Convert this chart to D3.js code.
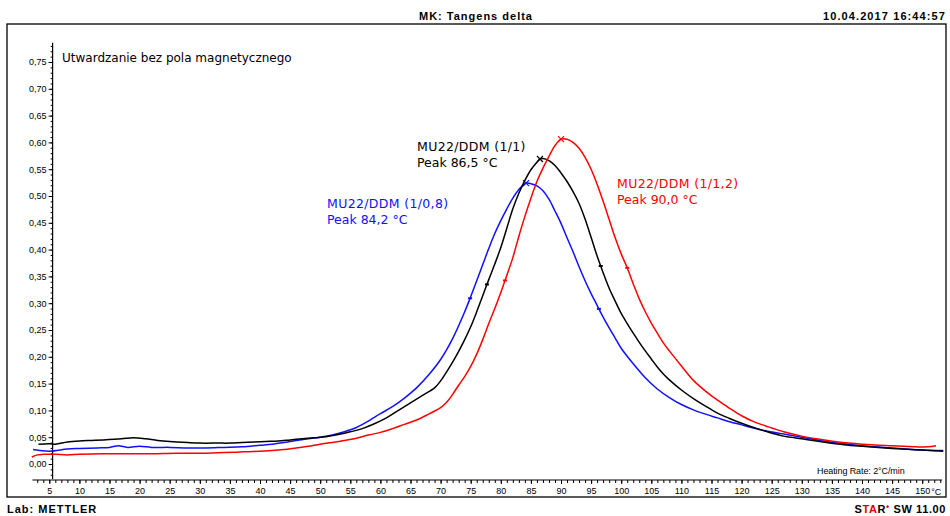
<!DOCTYPE html>
<html>
<head>
<meta charset="utf-8">
<script src="https://cdn.jsdelivr.net/npm/d3@7"></script>
<style>
  html, body { margin: 0; padding: 0; background: #fff; }
  svg { display: block; }
  .tick text { font-family: "Liberation Sans", Arial, sans-serif; font-size: 9px; fill: #000; }
</style>
</head>
<body>
<svg id="chart" width="950" height="516"></svg>
<script>
// ---------------- DATA ----------------
const seriesNames = ["MU22/DDM (1/0,8)", "MU22/DDM (1/1)", "MU22/DDM (1/1,2)"];
const seriesColors = ["#1010ff", "#000000", "#ff0000"];
const peakTemps = [84.2, 86.5, 90.0];
const halfMarkTemps = [[74.9, 96.3], [77.7, 96.6], [80.7, 101.0]];

const blueT = [2.3, 5, 8, 10, 13, 15, 16.5, 18, 20, 22, 25, 28, 31, 34, 37, 40, 42, 45, 48, 50, 52, 54, 56, 58, 60, 62, 64, 66, 68, 70, 72, 74, 75, 76, 77, 78, 79, 80, 81, 82, 83, 83.6, 84.2, 85, 86, 87, 88, 89, 90, 91, 92, 93, 94, 95, 96, 97, 98, 99, 100, 102, 104, 106, 108, 110, 112, 114, 116, 118, 120, 122, 124, 127, 130, 133, 136, 140, 145, 150, 153.5];
const blueV = [0.027, 0.024, 0.028, 0.029, 0.030, 0.031, 0.034, 0.031, 0.033, 0.031, 0.031, 0.030, 0.030, 0.031, 0.032, 0.035, 0.037, 0.042, 0.047, 0.050, 0.054, 0.060, 0.068, 0.080, 0.094, 0.107, 0.123, 0.142, 0.166, 0.195, 0.234, 0.284, 0.312, 0.342, 0.372, 0.402, 0.430, 0.454, 0.476, 0.496, 0.512, 0.519, 0.524, 0.523, 0.519, 0.510, 0.494, 0.472, 0.449, 0.422, 0.396, 0.368, 0.342, 0.318, 0.296, 0.274, 0.254, 0.235, 0.216, 0.187, 0.161, 0.140, 0.124, 0.111, 0.101, 0.093, 0.086, 0.079, 0.073, 0.067, 0.062, 0.056, 0.050, 0.044, 0.039, 0.034, 0.030, 0.026, 0.025];

const blackT = [3.2, 5, 6, 8, 10, 12, 14, 17, 19, 21, 23, 25, 28, 30, 33, 35, 37, 39, 41, 43, 45, 47, 49, 51, 53, 55, 57, 59, 61, 63, 65, 67, 69, 70, 71, 72, 73, 74, 75, 76, 77, 78, 79, 80, 81, 82, 83, 84, 85, 86, 86.5, 87, 88, 89, 90, 91, 92, 93, 94, 95, 96, 97, 98, 99, 100, 101, 102, 103, 104, 105, 106, 107, 108, 110, 112, 114, 116, 118, 120, 122, 124, 127, 130, 133, 137, 140, 145, 150, 153.5];
const blackV = [0.037, 0.038, 0.037, 0.041, 0.043, 0.044, 0.045, 0.047, 0.049, 0.047, 0.044, 0.042, 0.040, 0.039, 0.039, 0.039, 0.040, 0.041, 0.042, 0.043, 0.045, 0.047, 0.049, 0.051, 0.055, 0.060, 0.066, 0.075, 0.086, 0.100, 0.114, 0.128, 0.142, 0.155, 0.172, 0.190, 0.210, 0.232, 0.256, 0.284, 0.314, 0.344, 0.373, 0.404, 0.440, 0.476, 0.505, 0.529, 0.549, 0.563, 0.569, 0.570, 0.566, 0.557, 0.543, 0.527, 0.508, 0.486, 0.457, 0.423, 0.388, 0.357, 0.328, 0.304, 0.281, 0.262, 0.244, 0.227, 0.211, 0.196, 0.181, 0.168, 0.157, 0.138, 0.122, 0.108, 0.095, 0.085, 0.076, 0.068, 0.061, 0.052, 0.047, 0.042, 0.036, 0.033, 0.029, 0.026, 0.024];

const redT = [2.1, 3, 4, 6, 8, 10, 14, 18, 22, 26, 30, 33, 36, 38, 40, 42, 44, 46, 48, 50, 52, 54, 56, 58, 60, 62, 64, 66, 68, 70, 71, 72, 73, 74, 75, 76, 77, 78, 79, 80, 81, 82, 83, 84, 85, 86, 87, 88, 89, 90, 91, 92, 93, 94, 95, 96, 97, 98, 99, 100, 101, 102, 103, 104, 105, 106, 107, 108, 110, 112, 114, 116, 118, 120, 122, 124, 127, 130, 133, 136, 140, 145, 149, 151, 152.3];
const redV = [0.013, 0.017, 0.018, 0.018, 0.017, 0.018, 0.019, 0.019, 0.019, 0.020, 0.020, 0.021, 0.022, 0.023, 0.024, 0.025, 0.027, 0.030, 0.033, 0.037, 0.040, 0.044, 0.048, 0.054, 0.059, 0.066, 0.074, 0.082, 0.093, 0.105, 0.115, 0.130, 0.147, 0.163, 0.182, 0.205, 0.232, 0.262, 0.290, 0.320, 0.352, 0.385, 0.425, 0.462, 0.496, 0.527, 0.552, 0.574, 0.594, 0.606, 0.606, 0.600, 0.589, 0.572, 0.550, 0.522, 0.490, 0.456, 0.422, 0.392, 0.366, 0.336, 0.308, 0.284, 0.263, 0.244, 0.226, 0.211, 0.183, 0.156, 0.136, 0.119, 0.104, 0.090, 0.079, 0.071, 0.060, 0.052, 0.046, 0.041, 0.037, 0.034, 0.032, 0.032, 0.034];

const xMajorTicks = d3.range(5, 151, 5);
const xMinorTicks = d3.range(3, 154, 1);
const yMajorTicks = d3.range(0, 0.751, 0.05);
const yMinorTicks = d3.range(-0.02, 0.781, 0.01);

const titleText = "MK: Tangens delta";
const dateText = "10.04.2017 16:44:57";
const labText = "Lab: METTLER";
const subtitleText = "Utwardzanie bez pola magnetycznego";
const rateText = "Heating Rate: 2°C/min";

// ---------------- SCALES ----------------
const svg = d3.select("#chart");
const x = d3.scaleLinear().domain([5, 150]).range([49.3, 922.2]);
const y = d3.scaleLinear().domain([0, 0.75]).range([464, 62]);
const fmt = v => d3.format(".2f")(v).replace(".", ",");

// frame
svg.append("rect").attr("x", 7).attr("y", 24).attr("width", 939).attr("height", 473)
  .attr("fill", "none").attr("stroke", "#000").attr("stroke-width", 1.3);

// header / footer texts
const hdr = { "font-family": "Liberation Sans, Arial, sans-serif", "font-weight": "bold", "font-size": "11px" };
function styled(sel, st) { Object.entries(st).forEach(([k, v]) => sel.attr(k, v)); return sel; }
styled(svg.append("text"), hdr).attr("x", 476).attr("y", 20).attr("text-anchor", "middle")
  .attr("letter-spacing", "1px").text(titleText);
styled(svg.append("text"), hdr).attr("x", 946).attr("y", 20).attr("text-anchor", "end")
  .attr("letter-spacing", "1.1px").text(dateText);
styled(svg.append("text"), hdr).attr("x", 7).attr("y", 513)
  .attr("letter-spacing", "1px").text(labText);
const star = styled(svg.append("text"), hdr).attr("x", 946).attr("y", 513).attr("text-anchor", "end")
  .attr("letter-spacing", "0.6px");
star.append("tspan").attr("fill", "#000").text("S");
star.append("tspan").attr("fill", "#e00000").text("TA");
star.append("tspan").attr("fill", "#000").text("R");
star.append("tspan").attr("fill", "#e00000").attr("font-size", "9px").attr("dy", "-3").text("•");
star.append("tspan").attr("fill", "#000").attr("dy", "3").text(" SW 11.00");

// ---------------- AXES ----------------
const gx = svg.append("g").attr("transform", "translate(0,480)");
gx.append("line").attr("x1", x(2.2)).attr("x2", x(153.3)).attr("stroke", "#000").attr("stroke-width", 1.2);
gx.append("g").call(d3.axisBottom(x).tickValues(xMinorTicks).tickSize(3).tickFormat(""))
  .call(g => g.select(".domain").remove());
gx.append("g").call(d3.axisBottom(x).tickValues(xMajorTicks).tickSize(4).tickPadding(4)
  .tickFormat(d3.format("d")))
  .call(g => g.select(".domain").remove());
gx.append("text").attr("x", x(150) + 9).attr("y", 15)
  .attr("font-family", "Liberation Sans, Arial, sans-serif").attr("font-size", "9px").text("°C");

const gy = svg.append("g").attr("transform", `translate(${x(5.55)},0)`);
gy.append("line").attr("y1", y(-0.028)).attr("y2", y(0.786)).attr("stroke", "#000").attr("stroke-width", 1.2);
gy.append("g").call(d3.axisLeft(y).tickValues(yMinorTicks).tickSize(2).tickFormat(""))
  .call(g => g.select(".domain").remove());
gy.append("g").call(d3.axisLeft(y).tickValues(yMajorTicks).tickSize(4).tickPadding(2).tickFormat(fmt))
  .call(g => g.select(".domain").remove());
svg.selectAll(".tick line").attr("stroke", "#000");

// ---------------- CURVES ----------------
const allT = [blueT, blackT, redT];
const allV = [blueV, blackV, redV];
const line = d3.line().x(d => x(d[0])).y(d => y(d[1])).curve(d3.curveCatmullRom.alpha(0.5));
const interp = (ts, vs, t) => {
  const i = d3.bisectLeft(ts, t);
  if (i <= 0) return vs[0];
  if (i >= ts.length) return vs[vs.length - 1];
  const f = (t - ts[i - 1]) / (ts[i] - ts[i - 1]);
  return vs[i - 1] + f * (vs[i] - vs[i - 1]);
};

[0, 1, 2].forEach(k => {
  const pts = allT[k].map((t, i) => [t, allV[k][i]]);
  svg.append("path").datum(pts).attr("d", line).attr("fill", "none")
    .attr("stroke", seriesColors[k]).attr("stroke-width", 1.5).attr("stroke-linejoin", "round");
  // half-height markers
  halfMarkTemps[k].forEach(t => {
    const px = x(t), py = y(interp(allT[k], allV[k], t));
    svg.append("line").attr("x1", px - 2).attr("x2", px + 2).attr("y1", py).attr("y2", py)
      .attr("stroke", seriesColors[k]).attr("stroke-width", 2);
  });
  // peak marker (x)
  const pt = peakTemps[k], pv = interp(allT[k], allV[k], pt);
  const cx = x(pt), cy = y(pv);
  svg.append("path").attr("d", `M${cx - 3},${cy - 3}L${cx + 3},${cy + 3}M${cx - 3},${cy + 3}L${cx + 3},${cy - 3}`)
    .attr("stroke", seriesColors[k]).attr("stroke-width", 1.2);
});

// ---------------- ANNOTATIONS ----------------
const ann = { "font-family": "DejaVu Sans, Verdana, sans-serif", "font-size": "12.5px" };
styled(svg.append("text"), ann).attr("x", 62).attr("y", 62).attr("font-size", "12px").text(subtitleText);
const annPos = [[327, 208], [417, 150.5], [617, 188]];
[0, 1, 2].forEach(k => {
  styled(svg.append("text"), ann).attr("x", annPos[k][0]).attr("y", annPos[k][1])
    .attr("letter-spacing", "0.35px").attr("fill", seriesColors[k]).text(seriesNames[k]);
  styled(svg.append("text"), ann).attr("x", annPos[k][0]).attr("y", annPos[k][1] + 16)
    .attr("fill", seriesColors[k]).text("Peak " + d3.format(".1f")(peakTemps[k]).replace(".", ",") + " °C");
});
svg.append("text").attr("x", 817).attr("y", 474)
  .attr("font-family", "Liberation Sans, Arial, sans-serif").attr("font-size", "9px")
  .attr("letter-spacing", "-0.1px").text(rateText);
</script>
</body>
</html>
